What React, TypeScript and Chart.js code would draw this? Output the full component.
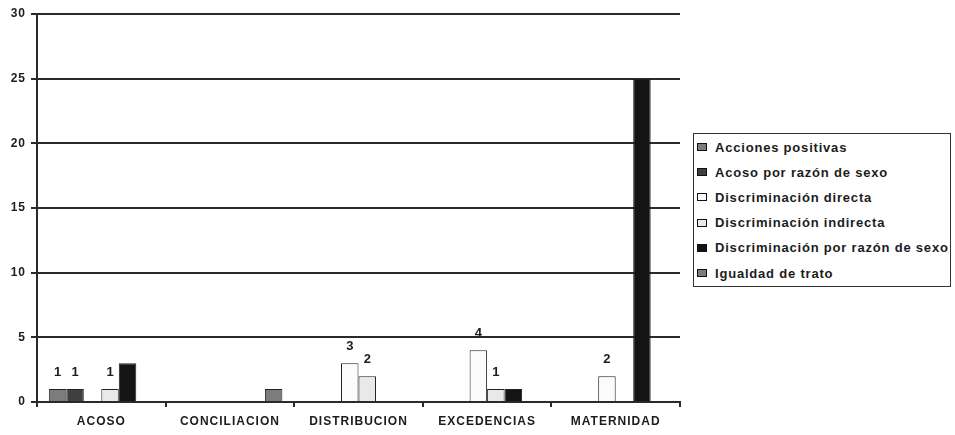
import React, { useEffect, useRef } from "react";
import { Chart, registerables } from "chart.js";

Chart.register(...registerables);

// Categories on the x axis
const categories = ["ACOSO", "CONCILIACION", "DISTRIBUCION", "EXCEDENCIAS", "MATERNIDAD"];

// Series names (legend order)
const seriesNames = [
  "Acciones positivas",
  "Acoso por razón de sexo",
  "Discriminación directa",
  "Discriminación indirecta",
  "Discriminación por razón de sexo",
  "Igualdad de trato",
];

// Values per series, one per category
const accionesPositivas = [1, 0, 0, 0, 0];
const acosoPorRazon = [1, 0, 0, 0, 0];
const discriminacionDirecta = [0, 0, 3, 4, 2];
const discriminacionIndirecta = [1, 0, 2, 1, 0];
const discriminacionPorRazon = [3, 0, 0, 1, 25];
const igualdadDeTrato = [0, 1, 0, 0, 0];

const seriesValues = [
  accionesPositivas,
  acosoPorRazon,
  discriminacionDirecta,
  discriminacionIndirecta,
  discriminacionPorRazon,
  igualdadDeTrato,
];

// Series whose bars carry a value label
const labeledSeries = [true, true, true, true, false, false];

// Y axis ticks
const yTicks = [0, 5, 10, 15, 20, 25, 30];

const seriesColors = ["#7c7c7c", "#3f3f3f", "#fbfbfb", "#e9e9e9", "#141414", "#7c7c7c"];

const FONT = "'Liberation Sans', Arial, sans-serif";
const INK = "#1c1c1c";
const LINE = "#2a2a2a";

const spacingPlugin = {
  id: "letterSpacing",
  beforeUpdate(chart: any) {
    chart.ctx.letterSpacing = "1px";
  },
  beforeDraw(chart: any) {
    chart.ctx.letterSpacing = "1px";
  },
};

const valueLabelPlugin = {
  id: "valueLabels",
  afterDatasetsDraw(chart: any) {
    const ctx = chart.ctx;
    ctx.save();
    ctx.letterSpacing = "0px";
    ctx.font = `bold 13px ${FONT}`;
    ctx.fillStyle = INK;
    ctx.textAlign = "center";
    ctx.textBaseline = "bottom";
    chart.data.datasets.forEach((ds: any, i: number) => {
      if (!labeledSeries[i]) return;
      const meta = chart.getDatasetMeta(i);
      meta.data.forEach((bar: any, j: number) => {
        const v = seriesValues[i][j];
        if (!v) return;
        ctx.fillText(String(v), bar.x, bar.y - 10);
      });
    });
    ctx.restore();
  },
};

export default function App() {
  const canvasRef = useRef<HTMLCanvasElement | null>(null);

  useEffect(() => {
    if (!canvasRef.current) return;
    const chart = new Chart(canvasRef.current, {
      type: "bar",
      data: {
        labels: categories,
        datasets: seriesNames.map((name, i) => ({
          label: name,
          data: seriesValues[i].map((v) => (v > 0 ? v : null)),
          backgroundColor: seriesColors[i],
          borderColor: "#222",
          borderWidth: 1,
          categoryPercentage: 0.816,
          barPercentage: 1.0,
        })),
      },
      options: {
        animation: false,
        responsive: true,
        maintainAspectRatio: false,
        layout: { padding: { left: 0, right: 275, top: 14, bottom: 0 } },
        plugins: {
          legend: { display: false },
          tooltip: { enabled: false },
        },
        scales: {
          x: {
            grid: {
              display: true,
              drawOnChartArea: false,
              offset: true,
              tickLength: 5,
              color: LINE,
              lineWidth: 2,
            },
            border: { display: true, color: LINE, width: 2 },
            ticks: {
              color: INK,
              font: { family: FONT, size: 12, weight: "bold" },
              padding: 7,
              maxRotation: 0,
              autoSkip: false,
            },
            afterFit(scale: any) {
              scale.height = 33;
            },
          },
          y: {
            min: 0,
            max: 30,
            afterBuildTicks(scale: any) {
              scale.ticks = yTicks.map((v) => ({ value: v }));
            },
            grid: {
              color: LINE,
              lineWidth: 2,
              tickLength: 6,
            },
            border: { display: true, color: LINE, width: 2 },
            ticks: {
              color: INK,
              font: { family: FONT, size: 12, weight: "bold" },
              padding: 5,
            },
            afterFit(scale: any) {
              scale.width = 37;
            },
          },
        },
      },
      plugins: [spacingPlugin, valueLabelPlugin],
    });
    return () => chart.destroy();
  }, []);

  return (
    <div style={{ position: "fixed", left: 0, top: 0, width: 955, height: 435, background: "#fff" }}>
      <canvas ref={canvasRef} />
      <div
        style={{
          position: "absolute",
          left: 693,
          top: 133,
          width: 256,
          height: 152,
          border: "1.5px solid #333",
          background: "#fff",
          fontFamily: FONT,
          fontWeight: "bold",
          fontSize: 13,
          letterSpacing: "0.8px",
          color: INK,
        }}
      >
        {seriesNames.map((name, i) => (
          <div
            key={name}
            style={{
              position: "absolute",
              left: 3,
              top: 4 + i * 25.2,
              height: 18,
              display: "flex",
              alignItems: "center",
              whiteSpace: "nowrap",
            }}
          >
            <span
              style={{
                display: "inline-block",
                width: 8,
                height: 6,
                border: "1px solid #111",
                background: seriesColors[i],
                marginRight: 8,
              }}
            />
            <span>{name}</span>
          </div>
        ))}
      </div>
    </div>
  );
}
